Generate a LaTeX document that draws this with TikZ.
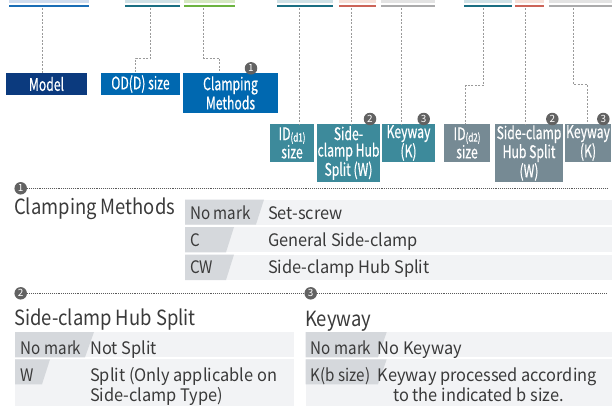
\documentclass[tikz,border=0pt]{standalone}
\usepackage{fontspec}
\setmainfont{Noto Sans CJK JP}
\newfontfamily\condfont{Noto Sans CJK JP}[FakeStretch=0.7, FakeBold=0.5]
\newfontfamily\titlefont{Noto Sans CJK JP}[FakeStretch=0.88]
\newfontfamily\keyfont{Noto Sans CJK JP}[FakeStretch=0.88]
\newfontfamily\valfont{Noto Sans CJK JP}[FakeStretch=0.95]
\definecolor{cNavy}{HTML}{0B3A7E}
\definecolor{cBlue}{HTML}{0068B0}
\definecolor{cTeal}{HTML}{3D8A9B}
\definecolor{cSlate}{HTML}{768A94}
\definecolor{cBadge}{HTML}{626262}
\definecolor{cConn}{HTML}{9A9A9A}
\definecolor{cSep}{HTML}{5A5A5A}
\definecolor{cText}{HTML}{3A3A3A}
\definecolor{cKey}{HTML}{D5D8DC}
\definecolor{cRow}{HTML}{F2F3F5}
\definecolor{lBlue}{HTML}{CFDCEE}\definecolor{dBlue}{HTML}{1A6DB5}
\definecolor{lTeal}{HTML}{CFE1E6}\definecolor{dTeal}{HTML}{1A6E82}
\definecolor{lGreen}{HTML}{D5E8C1}\definecolor{dGreen}{HTML}{6CB33F}
\definecolor{lRed}{HTML}{F7E0D8}\definecolor{dRed}{HTML}{CC6458}
\definecolor{lGray}{HTML}{E3E3E3}\definecolor{dGray}{HTML}{AAAAAB}
\begin{document}
\begin{tikzpicture}[x=1bp,y=-1bp,
  lbox/.style={inner sep=0pt, text=white, align=center,
    font=\condfont\fontsize{17.5}{16.5}\selectfont},
  conn/.style={draw=cConn, line width=0.9bp, dash pattern=on 2bp off 1.5bp},
  badge/.style={circle, fill=cBadge, text=white, inner sep=0pt, minimum size=12.5bp,
    font=\fontsize{10}{10}\selectfont},
  sepline/.style={draw=cSep, line width=0.7bp, dash pattern=on 0.7bp off 1.2bp},
  title/.style={anchor=base west, inner sep=0pt, text=cText, font=\titlefont\fontsize{21}{24}\selectfont},
  cell/.style={anchor=base west, inner sep=0pt, text=cText, font=\valfont\fontsize{17.3}{20}\selectfont},
  keycell/.style={anchor=base west, inner sep=0pt, text=cText, font=\keyfont\fontsize{17.3}{20}\selectfont},
]
\useasboundingbox (0,0) rectangle (612,406);
% top bars
\newcommand{\topbar}[4]{%
  \fill[#3] (#1,0) rectangle (#2,3.3);
  \fill[#4] (#1,4.5) rectangle (#2,6.8);}
\topbar{8.6}{89.3}{lBlue}{dBlue}
\topbar{125}{180}{lTeal}{dTeal}
\topbar{184}{235}{lGreen}{dGreen}
\topbar{277}{333}{lTeal}{dTeal}
\topbar{339}{376}{lRed}{dRed}
\topbar{381}{435}{lGray}{dGray}
\topbar{463.6}{511.7}{lTeal}{dTeal}
\topbar{514.5}{544}{lRed}{dRed}
\topbar{548.5}{612}{lGray}{dGray}
% label boxes
\node[lbox, fill=cNavy, minimum width=81bp, minimum height=22bp] (model) at (46.5,84) {Model};
\node[lbox, fill=cBlue, minimum width=79bp, minimum height=22bp] (od) at (140.5,84) {OD(D) size};
\node[lbox, fill=cBlue, minimum width=95bp, minimum height=40bp] (clamp) at (230.5,93) {Clamping\\Methods};
\node[lbox, fill=cTeal, minimum width=44bp, minimum height=38bp] (ida) at (292,143) {ID{\fontsize{11.5}{11}\selectfont\raisebox{-1.5bp}{(d1)}}\\size};
\node[lbox, fill=cTeal, minimum width=63bp, minimum height=58bp] (wa) at (348.5,153) {Side-\\clamp Hub\\Split (W)};
\node[lbox, fill=cTeal, minimum width=53bp, minimum height=38bp] (ka) at (408.5,143) {Keyway\\(K)};
\node[lbox, fill=cSlate, minimum width=46bp, minimum height=38bp] (idb) at (467,143) {ID{\fontsize{11.5}{11}\selectfont\raisebox{-1.5bp}{(d2)}}\\size};
\node[lbox, fill=cSlate, minimum width=68bp, minimum height=58bp] (wb) at (529,153) {Side-clamp\\Hub Split\\(W)};
\node[lbox, fill=cSlate, minimum width=46bp, minimum height=38bp] (kb) at (588,143) {Keyway\\(K)};
% connectors
\coordinate (tModel) at (42.7,8);
\coordinate (tOD) at (150.7,8);
\coordinate (tClamp) at (203.7,8);
\coordinate (tIDA) at (299.3,8);
\coordinate (tWA) at (351.7,8);
\coordinate (tKA) at (401.3,8);
\coordinate (tIDB) at (483.3,8);
\coordinate (tWB) at (525.3,8);
\coordinate (tKB) at (573.3,8);
\draw[conn] (tModel) -- (tModel |- model.north);
\draw[conn] (tOD) -- (150.7,58) -- (135.7,58) -- (135.7,0 |- od.north);
\draw[conn] (tClamp) -- (203.7,58) -- (219.3,58) -- (219.3,0 |- clamp.north);
\draw[conn] (tIDA) -- (tIDA |- ida.north);
\draw[conn] (tWA) -- (tWA |- wa.north);
\draw[conn] (tKA) -- (tKA |- ka.north);
\draw[conn] (tIDB) -- (483.3,85.3) -- (465.7,85.3) -- (465.7,0 |- idb.north);
\draw[conn] (tWB) -- (tWB |- wb.north);
\draw[conn] (tKB) -- (573.3,84.3) -- (587,84.3) -- (587,0 |- kb.north);
% badges on boxes
\node[badge] (b1top) at (251,68.3) {1};
\node[badge] (b2a) at (370,119) {2};
\node[badge] (b3a) at (423.7,119) {3};
\node[badge] (b2b) at (552.3,119) {2};
\node[badge] (b3b) at (603.3,119) {3};
% section 1
\node[badge] (s1) at (20.7,188.3) {1};
\coordinate (e1) at (607,188.3);
\draw[sepline] (s1.east) -- (e1);
\node[title] (t1) at (14,214) {Clamping Methods};
\fill[cRow] (185,199.5) rectangle (612,224.5);
\fill[cRow] (185,227) rectangle (612,252.3);
\fill[cRow] (185,254.5) rectangle (612,280);
\fill[cKey] (185,199.5) -- (264,199.5) -- (256,224.5) -- (185,224.5) -- cycle;
\fill[cKey] (185,227) -- (234,227) -- (226,252.3) -- (185,252.3) -- cycle;
\fill[cKey] (185,254.5) -- (234,254.5) -- (226,280) -- (185,280) -- cycle;
\node[keycell] (k11) at (190,219.5) {No mark};
\node[cell] (v11) at (268,219.5) {Set-screw};
\node[keycell] (k12) at (190,246.7) {C};
\node[cell] (v12) at (268,246.7) {General Side-clamp};
\node[keycell] (k13) at (190,273.5) {CW};
\node[cell] (v13) at (268,273.5) {Side-clamp Hub Split};
% section 2 and 3 separator
\node[badge] (s2) at (20.7,293.3) {2};
\node[badge] (s3) at (310.7,293.3) {3};
\coordinate (e3) at (607,293.3);
\draw[sepline] (s2.east) -- (s3.west);
\draw[sepline] (s3.east) -- (e3);
% section 2
\node[title] (t2) at (14,325.5) {Side-clamp Hub Split};
\fill[cRow] (15,332) rectangle (294,357.3);
\fill[cRow] (15,359.3) rectangle (294,406);
\fill[cKey] (15,332) -- (94,332) -- (85,357.3) -- (15,357.3) -- cycle;
\fill[cKey] (15,359.3) -- (50,359.3) -- (42,384.3) -- (15,384.3) -- cycle;
\node[keycell] (k21) at (20.7,354) {No mark};
\node[cell] (v21) at (90,354) {Not Split};
\node[keycell] (k22) at (20.7,381) {W};
\node[cell] (v22) at (90,381) {Split (Only applicable on};
\node[cell] (v22b) at (90,401) {Side-clamp Type)};
% section 3
\node[title] (t3) at (305,326) {Keyway};
\fill[cRow] (305.7,332) rectangle (612,357.3);
\fill[cRow] (305.7,359.3) rectangle (612,406);
\fill[cKey] (305.7,332) -- (386.7,332) -- (378,357.3) -- (305.7,357.3) -- cycle;
\fill[cKey] (305.7,359.3) -- (386.7,359.3) -- (378,384.3) -- (305.7,384.3) -- cycle;
\node[keycell] (k31) at (310.7,354) {No mark};
\node[cell] (v31) at (377.5,354) {No Keyway};
\node[keycell] (k32) at (310.7,381) {K(b size)};
\node[cell] (v32) at (377.5,381) {Keyway processed according};
\node[cell] (v32b) at (393,401) {to the indicated b size.};
\end{tikzpicture}
\end{document}
